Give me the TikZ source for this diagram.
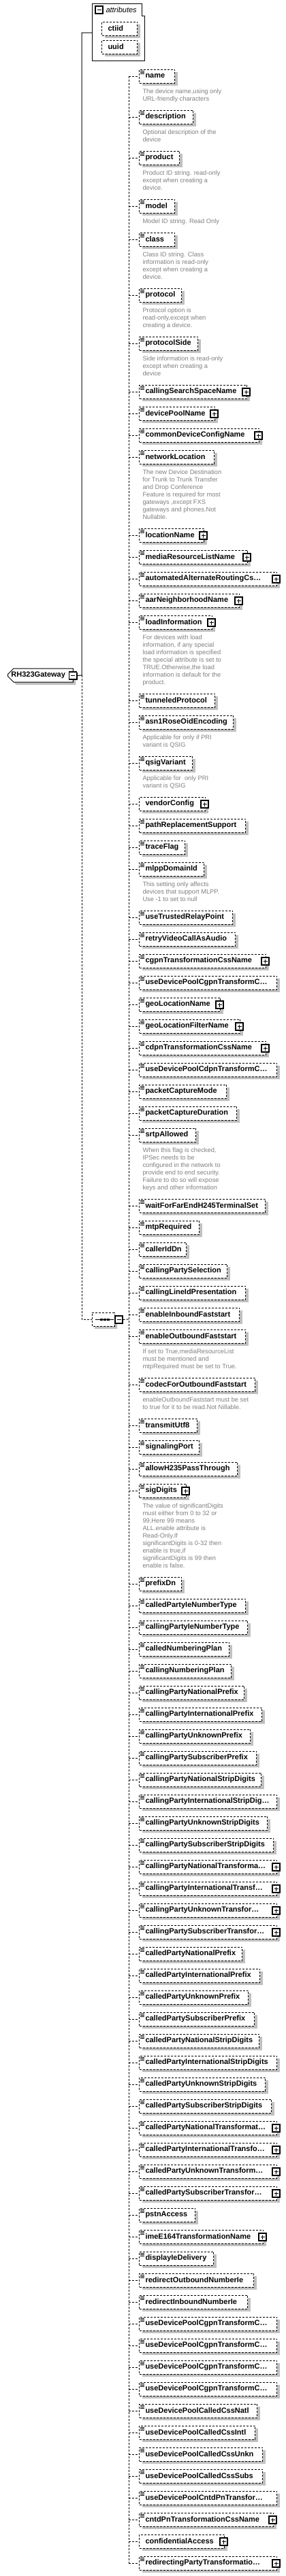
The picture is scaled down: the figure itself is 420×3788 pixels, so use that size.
\documentclass[tikz,border=0pt]{standalone}
\usepackage{fontspec}
\setmainfont{Liberation Sans}
\usepackage{tikz}
\usetikzlibrary{positioning}
\usetikzlibrary{shapes.misc}
\usetikzlibrary{shadows}

\definecolor{shadowgray}{RGB}{192,192,192}
\definecolor{notegray}{RGB}{128,128,128}

\begin{document}
\begin{tikzpicture}
  [x=1pt,y=-1pt,line width=1pt,
   elem/.style={draw,fill=white,dash pattern=on 3pt off 2pt,inner sep=0pt,minimum height=20pt,
     font=\fontsize{11}{13}\selectfont\bfseries,
     drop shadow={shadow xshift=4pt,shadow yshift=-4pt,fill=shadowgray,opacity=1}},
   topel/.style={draw,fill=white,inner sep=0pt,minimum height=20pt,
     font=\fontsize{11}{13}\selectfont\bfseries,
     drop shadow={shadow xshift=4pt,shadow yshift=-4pt,fill=shadowgray,opacity=1}},
   seqbox/.style={draw,fill=white,dash pattern=on 3pt off 2pt,chamfered rectangle,
     chamfered rectangle xsep=5pt,inner sep=0pt,minimum width=33pt,minimum height=20pt,
     drop shadow={shadow xshift=4pt,shadow yshift=-4pt,fill=shadowgray,opacity=1}},
   pmbox/.style={draw,solid,fill=white,line width=1.2pt,minimum size=11pt,inner sep=0pt,
     drop shadow={shadow xshift=1pt,shadow yshift=-1pt,fill=black,opacity=1}},
   plusbox/.style={pmbox,path picture={\draw[line width=1pt]
     ([xshift=2.5pt]path picture bounding box.west) -- ([xshift=-2.5pt]path picture bounding box.east)
     ([yshift=-2.5pt]path picture bounding box.north) -- ([yshift=2.5pt]path picture bounding box.south);}},
   minusbox/.style={pmbox,path picture={\draw[line width=1pt]
     ([xshift=2.5pt]path picture bounding box.west) -- ([xshift=-2.5pt]path picture bounding box.east);}},
   icon/.style={solid,line width=0.9pt},
   bus/.style={dash pattern=on 3pt off 2pt},
   note/.style={anchor=north west,inner sep=0pt,align=left,text=notegray,
     font=\fontsize{9.3}{11}\selectfont}]

  \useasboundingbox (0,0) rectangle (420,3788);

  % root element and its attributes
  \node[topel,chamfered rectangle,chamfered rectangle corners={north west,south west},
    chamfered rectangle xsep=5pt,anchor=west] (rh) at (11,993) {\makebox[86pt][l]{RH323Gateway}};
  \node[minusbox] (rhMinus) at (107,993.5) {};

  \draw (135,5) -- (208,5) -- (208,23) -- (212,23) -- (212,89) -- (135,89) -- cycle;
  \node[minusbox] (attrMinus) at (145.5,14.5) {};
  \node[anchor=west,inner sep=0pt,font=\fontsize{11}{13}\selectfont\itshape] (attrTitle) at (155,15) {attributes};
  \node[elem,anchor=west] (ctiid) at (149,42) {\makebox[52pt][l]{\hspace{9pt}ctiid}};
  \node[elem,anchor=west] (uuid) at (149,69) {\makebox[52pt][l]{\hspace{9pt}uuid}};

  % sequence
  \node[seqbox] (seq) at (151.5,1940) {};
  \draw[solid] ([xshift=5pt]seq.west) -- ([xshift=-2pt]seq.east);
  \foreach \dx in {14,19,24}
    \fill ([xshift=\dx pt]seq.west) +(-2pt,-1.5pt) rectangle +(2pt,1.5pt);
  \node[minusbox] (seqMinus) at (174.5,1940.5) {};

  \coordinate (trunk) at (120,993);
  \coordinate (attr) at (135,48);
  \coordinate (bus) at (189,1940);
  \draw (rhMinus.east) -- (trunk) |- (attr);
  \draw[bus] (trunk) |- (seq.west);
  \draw[bus] (seqMinus.east) -- (bus);

  % child elements: name/y/right edge/label/kind (0 plain, 1 plus, 2 plus without icon)
  \foreach \nm/\yy/\rr/\lab/\kd [evaluate=\rr as \ww using \rr-204] in
  {name/112/256/name/0,
   description/172/283/description/0,
   product/232/263/product/0,
   model/303/256/model/0,
   class/352/256/class/0,
   protocol/434/266/protocol/0,
   protocolSide/505/290/protocolSide/0,
   cssName/576/362/callingSearchSpaceName/1,
   devicePool/608/315/devicePoolName/1,
   commonDevCfg/640/380/commonDeviceConfigName/1,
   networkLocation/672/314/networkLocation/0,
   locationName/787/299/locationName/1,
   mrlName/819/363/mediaResourceListName/1,
   aarCss/851/406/automatedAlternateRoutingCs\ldots/1,
   aarNbhd/883/351/aarNeighborhoodName/1,
   loadInfo/915/311/loadInformation/1,
   tunneled/1030/315/tunneledProtocol/0,
   asnRose/1062/342/asn1RoseOidEncoding/0,
   qsigVariant/1122/282/qsigVariant/0,
   vendorConfig/1182/301/vendorConfig/2,
   pathRepl/1214/360/pathReplacementSupport/0,
   traceFlag/1246/271/traceFlag/0,
   mlppDomain/1278/299/mlppDomainId/0,
   useTrp/1349/341/useTrustedRelayPoint/0,
   retryVideo/1381/345/retryVideoCallAsAudio/0,
   cgpnCss/1413/390/cgpnTransformationCssName/1,
   useDpCgpn/1445/406/useDevicePoolCgpnTransformC\ldots/0,
   geoLoc/1477/323/geoLocationName/1,
   geoFilter/1509/352/geoLocationFilterName/1,
   cdpnCss/1541/390/cdpnTransformationCssName/1,
   useDpCdpn/1573/406/useDevicePoolCdpnTransformC\ldots/0,
   pktMode/1605/332/packetCaptureMode/0,
   pktDuration/1637/347/packetCaptureDuration/0,
   srtp/1669/287/srtpAllowed/0,
   waitHtwo/1773/389/waitForFarEndH245TerminalSet/0,
   mtp/1805/292/mtpRequired/0,
   callerIdDn/1837/273/callerIdDn/0,
   cgSelection/1869/333/callingPartySelection/0,
   clip/1901/360/callingLineIdPresentation/0,
   inFast/1933/351/enableInboundFaststart/0,
   outFast/1965/360/enableOutboundFaststart/0,
   codecFast/2036/374/codecForOutboundFaststart/0,
   utfEight/2096/289/transmitUtf8/0,
   sigPort/2128/292/signalingPort/0,
   hPass/2160/348/allowH235PassThrough/0,
   sigDigits/2192/273/sigDigits/1,
   prefixDn/2329/266/prefixDn/0,
   cdIeType/2361/360/calledPartyIeNumberType/0,
   cgIeType/2393/363/callingPartyIeNumberType/0,
   cdPlan/2425/336/calledNumberingPlan/0,
   cgPlan/2457/339/callingNumberingPlan/0,
   cgNatPfx/2489/358/callingPartyNationalPrefix/0,
   cgIntPfx/2521/384/callingPartyInternationalPrefix/0,
   cgUnkPfx/2553/367/callingPartyUnknownPrefix/0,
   cgSubPfx/2585/376/callingPartySubscriberPrefix/0,
   cgNatStrip/2617/383/callingPartyNationalStripDigits/0,
   cgIntStrip/2649/406/callingPartyInternationalStripDig\ldots/0,
   cgUnkStrip/2681/392/callingPartyUnknownStripDigits/0,
   cgSubStrip/2713/401/callingPartySubscriberStripDigits/0,
   cgNatXf/2745/406/callingPartyNationalTransforma\ldots/1,
   cgIntXf/2777/406/callingPartyInternationalTransf\ldots/1,
   cgUnkXf/2809/406/callingPartyUnknownTransfor\ldots/1,
   cgSubXf/2841/406/callingPartySubscriberTransfor\ldots/1,
   cdNatPfx/2873/355/calledPartyNationalPrefix/0,
   cdIntPfx/2905/381/calledPartyInternationalPrefix/0,
   cdUnkPfx/2937/364/calledPartyUnknownPrefix/0,
   cdSubPfx/2969/373/calledPartySubscriberPrefix/0,
   cdNatStrip/3001/380/calledPartyNationalStripDigits/0,
   cdIntStrip/3033/406/calledPartyInternationalStripDigits/0,
   cdUnkStrip/3065/389/calledPartyUnknownStripDigits/0,
   cdSubStrip/3097/398/calledPartySubscriberStripDigits/0,
   cdNatXf/3129/406/calledPartyNationalTransformat\ldots/1,
   cdIntXf/3161/406/calledPartyInternationalTransfo\ldots/1,
   cdUnkXf/3193/406/calledPartyUnknownTransform\ldots/1,
   cdSubXf/3225/406/calledPartySubscriberTransfor\ldots/1,
   pstn/3257/286/pstnAccess/0,
   imeXf/3289/386/imeE164TransformationName/1,
   displayIe/3321/313/displayIeDelivery/0,
   redirOut/3353/372/redirectOutboundNumberIe/0,
   redirIn/3385/363/redirectInboundNumberIe/0,
   useDpCgpnA/3417/406/useDevicePoolCgpnTransformC\ldots/0,
   useDpCgpnB/3449/406/useDevicePoolCgpnTransformC\ldots/0,
   useDpCgpnC/3481/406/useDevicePoolCgpnTransformC\ldots/0,
   useDpCgpnD/3513/406/useDevicePoolCgpnTransformC\ldots/0,
   useDpCdNatl/3545/377/useDevicePoolCalledCssNatl/0,
   useDpCdIntl/3577/374/useDevicePoolCalledCssIntl/0,
   useDpCdUnkn/3609/385/useDevicePoolCalledCssUnkn/0,
   useDpCdSubs/3641/385/useDevicePoolCalledCssSubs/0,
   useDpCntd/3673/406/useDevicePoolCntdPnTransfor\ldots/0,
   cntdCss/3705/401/cntdPnTransformationCssName/1,
   confAccess/3737/329/confidentialAccess/2,
   redirPartyXf/3769/406/redirectingPartyTransformatio\ldots/1}
  {
    \node[elem,anchor=west] (\nm) at (204,\yy) {\makebox[\ww pt][l]{\hspace{9pt}\lab}};
    \draw[bus] (bus |- \nm.west) -- (\nm.west);
    \ifnum\kd<2
      \draw[icon] (206,\yy-7.5) -- +(6,0) (206,\yy-5.5) -- +(6,0) (206,\yy-3.5) -- +(6,0);
    \fi
    \ifnum\kd>0
      \node[plusbox] (\nm-plus) at (\rr-0.5,\yy+0.5) {};
    \fi
  }
  \draw[bus] (bus |- name.west) -- (bus |- redirPartyXf.west);

  % annotations
  \node[note] (nameNote) at (209,130) {The device name,using only\\URL-friendly characters};
  \node[note] (descNote) at (209,190) {Optional description of the\\device};
  \node[note] (productNote) at (209,250) {Product ID string. read-only\\except when creating a\\device.};
  \node[note] (modelNote) at (209,321) {Model ID string. Read Only};
  \node[note] (classNote) at (209,370) {Class ID string. Class\\information is read-only\\except when creating a\\device.};
  \node[note] (protocolNote) at (209,452) {Protocol option is\\read-only,except when\\creating a device.};
  \node[note] (sideNote) at (209,523) {Side information is read-only\\except when creating a\\device};
  \node[note] (netLocNote) at (209,690) {The new Device Destination\\for Trunk to Trunk Transfer\\and Drop Conference\\Feature is required for most\\gateways ,except FXS\\gateways and phones.Not\\Nullable.};
  \node[note] (loadNote) at (209,933) {For devices with load\\information, if any special\\load information is specified\\the special attribute is set to\\TRUE.Otherwise,the load\\information is default for the\\product.};
  \node[note] (asnNote) at (209,1080) {Applicable for only if PRI\\variant is QSIG};
  \node[note] (qsigNote) at (209,1140) {Applicable for \ only PRI\\variant is QSIG};
  \node[note] (mlppNote) at (209,1296) {This setting only affects\\devices that support MLPP.\\Use -1 to set to null};
  \node[note] (srtpNote) at (209,1687) {When this flag is checked,\\IPSec needs to be\\configured in the network to\\provide end to end security.\\Failure to do so will expose\\keys and other information};
  \node[note] (outFastNote) at (209,1983) {If set to True,mediaResourceList\\must be mentioned and\\mtpRequired must be set to True.};
  \node[note] (codecNote) at (209,2054) {enableOutboundFaststart must be set\\to true for it to be read.Not Nillable.};
  \node[note] (sigNote) at (209,2210) {The value of significantDigits\\must either from 0 to 32 or\\99,Here 99 means\\ALL.enable attribute is\\Read-Only.If\\significantDigits is 0-32 then\\enable is true,if\\significantDigits is 99 then\\enable is false.};
\end{tikzpicture}
\end{document}
